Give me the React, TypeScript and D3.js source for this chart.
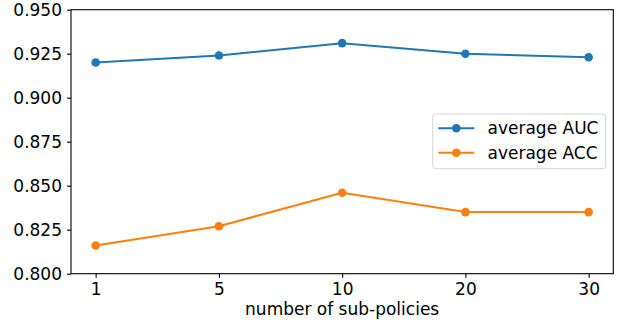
import React, { useRef, useEffect } from "react";
import * as d3 from "d3";

// chart data
const subPolicies = ["1", "5", "10", "20", "30"];
const avgAUC = [0.92, 0.924, 0.931, 0.925, 0.923];
const avgACC = [0.816, 0.827, 0.846, 0.835, 0.835];
const yTicks = [0.8, 0.825, 0.85, 0.875, 0.9, 0.925, 0.95];

const seriesNames = ["average AUC", "average ACC"];
const colors = ["#1f77b4", "#ff7f0e"];

const App = () => {
  const container = useRef<SVGSVGElement>(null);

  const width = 624;
  const height = 326;
  const left = 71;
  const right = 613.3;
  const top = 9.7;
  const bottom = 273.7;
  const font = "'DejaVu Sans', sans-serif";
  const fontSize = "17px";

  useEffect(() => {
    const svg = d3.select(container.current);
    svg.selectAll("*").remove();

    const xScale = d3.scalePoint().domain(subPolicies).range([left, right]).padding(0.2);
    const yScale = d3.scaleLinear().domain([0.8, 0.95]).range([bottom, top]);

    // axes
    const xAxis = d3.axisBottom(xScale).tickSize(4).tickPadding(5.6);
    const yAxis = d3
      .axisLeft(yScale)
      .tickValues(yTicks)
      .tickFormat(d3.format(".3f"))
      .tickSize(4)
      .tickPadding(5);

    const gx = svg.append("g").attr("transform", `translate(0, ${bottom})`).call(xAxis);
    const gy = svg.append("g").attr("transform", `translate(${left}, 0)`).call(yAxis);
    [gx, gy].forEach((g) => {
      g.select(".domain").remove();
      g.selectAll("line").attr("stroke", "#000").attr("stroke-width", 1.1);
      g.selectAll("text")
        .style("font-family", font)
        .style("font-size", fontSize)
        .attr("fill", "#000");
    });

    // frame
    svg
      .append("rect")
      .attr("x", left)
      .attr("y", top)
      .attr("width", right - left)
      .attr("height", bottom - top)
      .attr("fill", "none")
      .attr("stroke", "#000")
      .attr("stroke-width", 1.1);

    // lines + markers
    const line = d3
      .line<number>()
      .x((d, i) => xScale(subPolicies[i]) as number)
      .y((d) => yScale(d));

    [avgAUC, avgACC].forEach((vals, k) => {
      svg
        .append("path")
        .attr("d", line(vals))
        .attr("fill", "none")
        .attr("stroke", colors[k])
        .attr("stroke-width", 2);
      svg
        .append("g")
        .selectAll("circle")
        .data(vals)
        .enter()
        .append("circle")
        .attr("cx", (d, i) => xScale(subPolicies[i]) as number)
        .attr("cy", (d) => yScale(d))
        .attr("r", 4.3)
        .attr("fill", colors[k]);
    });

    // x label
    svg
      .append("text")
      .attr("x", (left + right) / 2)
      .attr("y", 315)
      .attr("text-anchor", "middle")
      .style("font-family", font)
      .style("font-size", fontSize)
      .text("number of sub-policies");

    // legend
    const legend = svg.append("g");
    legend
      .append("rect")
      .attr("x", 432.7)
      .attr("y", 114)
      .attr("width", 173)
      .attr("height", 54.7)
      .attr("rx", 3)
      .attr("fill", "#fff")
      .attr("fill-opacity", 0.8)
      .attr("stroke", "#d6d6d6")
      .attr("stroke-width", 1);

    seriesNames.forEach((name, k) => {
      const cy = 128.3 + k * 24.4;
      legend
        .append("line")
        .attr("x1", 438.3)
        .attr("x2", 474.3)
        .attr("y1", cy)
        .attr("y2", cy)
        .attr("stroke", colors[k])
        .attr("stroke-width", 2);
      legend
        .append("circle")
        .attr("cx", 456.3)
        .attr("cy", cy)
        .attr("r", 4.3)
        .attr("fill", colors[k]);
      legend
        .append("text")
        .attr("x", 487.5)
        .attr("y", cy)
        .attr("dy", "0.36em")
        .style("font-family", font)
        .style("font-size", fontSize)
        .text(name);
    });
  }, []);

  return (
    <svg
      ref={container}
      width={width}
      height={height}
      style={{ position: "absolute", left: 0, top: 0, background: "#fff" }}
    />
  );
};

export default App;
